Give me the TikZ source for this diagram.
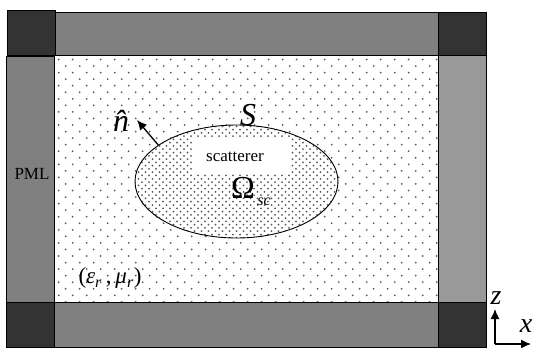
\documentclass[tikz,border=0pt]{standalone}
\usepackage{fontspec}
\setmainfont{Liberation Serif}
\usetikzlibrary{arrows.meta,positioning,shapes.geometric}

\begin{document}
\begin{tikzpicture}[
        x=1pt, y=-1pt,
        corner/.style={draw=black, line width=0.9pt, fill=black!80},
        bar/.style={draw=black, line width=0.9pt, fill=black!50},
        barlight/.style={draw=black, line width=0.9pt, fill=black!40},
        dotmark/.style={fill=black!65},
        label/.style={inner sep=0pt, font=\fontsize{32}{32}\selectfont},
        small/.style={inner sep=0pt, font=\fontsize{17}{17}\selectfont},
        arrow/.style={-{Latex[length=10pt,width=9pt]}, line width=1.3pt}
    ]
        \useasboundingbox (0,0) rectangle (533,348);

        % free-space dots
        \begin{scope}
            \clip (55,56) rectangle (438,302);
            \foreach \r in {0,...,37} {
                \pgfmathsetmacro{\yy}{59.5+6.55*\r}
                \pgfmathsetmacro{\xo}{mod(\r,2)==0 ? 58.7 : 65.7}
                \foreach \k in {0,...,27} {
                    \fill[dotmark] (\xo+14*\k,\yy) circle (1);
                }
            }
        \end{scope}

        % dense dots inside the surface
        \begin{scope}
            \clip (236.5,181.5) ellipse [x radius=101.5, y radius=56.5];
            \fill[white] (130,120) rectangle (340,240);
            \foreach \r in {0,...,36} {
                \pgfmathsetmacro{\yy}{123+3.28*\r}
                \pgfmathsetmacro{\xo}{mod(\r,2)==0 ? 135 : 138.5}
                \foreach \k in {0,...,29} {
                    \fill[dotmark] (\xo+7*\k,\yy) circle (1);
                }
            }
        \end{scope}
        \fill[white] (193,138) rectangle (291,173);

        % PML layers
        \draw[bar] (55,12) rectangle (438,55);
        \draw[bar] (6,56) rectangle (54.5,302);
        \draw[barlight] (438,55) rectangle (486,302);
        \draw[bar] (54.5,302) rectangle (438,347);
        \draw[corner] (7,10) rectangle (55,55);
        \draw[corner] (438,12) rectangle (486,55);
        \draw[corner] (6,302) rectangle (54.5,347);
        \draw[corner] (438,302) rectangle (486,347);

        \node[draw, ellipse, line width=0.9pt, minimum width=203pt, minimum height=113pt, inner sep=0pt] (surface) at (236.5,181.5) {};
        \node[small] (scatterer) at (235,157) {scatterer};
        \node[small] (pml) at (32,174) {PML};
        \node[label] (nhat) at (127,121) {\textit{\^n}};
        \node[label] (surfname) at (248,115) {\textit{S}};
        \node[label] (omega) at (243,188) {Ω};
        \node[inner sep=0pt, font=\itshape\fontsize{16}{16}\selectfont] (omegasub) at (264,202) {sc};
        \node[inner sep=0pt, font=\fontsize{23}{23}\selectfont] (medium) at (110,278) {(\textit{ε}\textsubscript{\textit{r}}\,,\,\textit{μ}\textsubscript{\textit{r}})};
        \coordinate (ntip) at (137,120);
        \draw[arrow] (surface.155) -- (ntip);

        \coordinate (origin) at (495,344);
        \node[label, font=\itshape\fontsize{28}{28}\selectfont] (zaxis) at (496,298) {z};
        \node[label, font=\itshape\fontsize{28}{28}\selectfont] (xaxis) at (526,326) {x};
        \coordinate (zend) at (495,309);
        \coordinate (xend) at (531,344);
        \draw[arrow] (origin) -- (zend);
        \draw[arrow] (origin) -- (xend);
    \end{tikzpicture}
\end{document}
